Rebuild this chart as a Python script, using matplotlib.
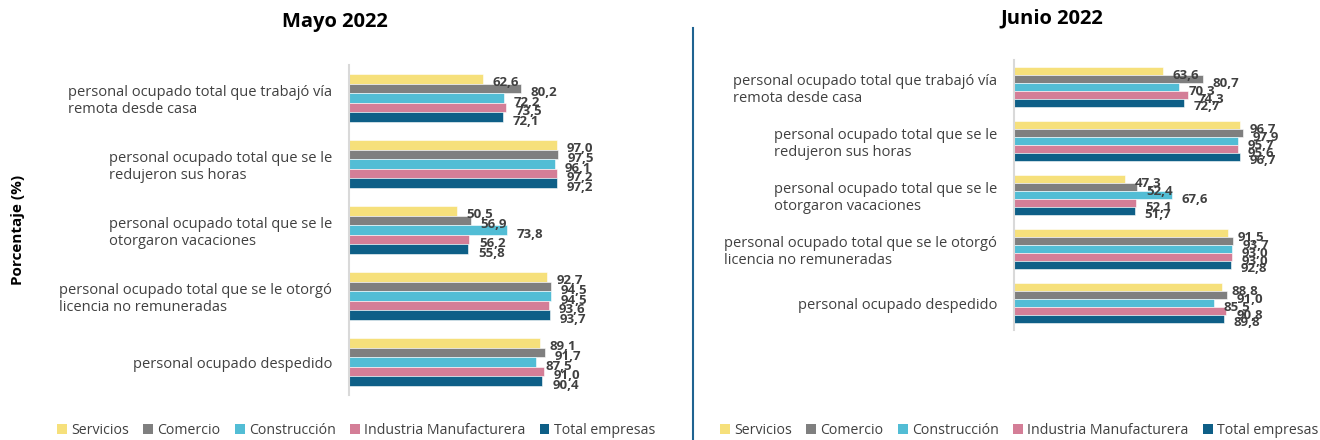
import numpy as np
import matplotlib.pyplot as plt
from matplotlib.patches import Patch
from matplotlib.lines import Line2D

plt.rcParams["font.family"] = ["Open Sans", "DejaVu Sans"]

categories = [
    "personal ocupado total que trabajó vía\nremota desde casa",
    "personal ocupado total que se le\nredujeron sus horas",
    "personal ocupado total que se le\notorgaron vacaciones",
    "personal ocupado total que se le otorgó\nlicencia no remuneradas",
    "personal ocupado despedido",
]
series = ["Servicios", "Comercio", "Construcción", "Industria Manufacturera", "Total empresas"]
colors = ["#F6E07B", "#7F7F7F", "#52BDD5", "#D47E97", "#0E5F87"]

# values per category, in series order
mayo = [
    [62.6, 80.2, 72.2, 73.5, 72.1],
    [97.0, 97.5, 96.1, 97.2, 97.2],
    [50.5, 56.9, 73.8, 56.2, 55.8],
    [92.7, 94.5, 94.5, 93.6, 93.7],
    [89.1, 91.7, 87.5, 91.0, 90.4],
]
junio = [
    [63.6, 80.7, 70.3, 74.3, 72.7],
    [96.7, 97.9, 95.7, 95.6, 96.7],
    [47.3, 52.4, 67.6, 52.1, 51.7],
    [91.5, 93.7, 93.0, 93.0, 92.8],
    [88.8, 91.0, 85.5, 90.8, 89.8],
]

fig = plt.figure(figsize=(13.2, 4.4), dpi=100)
W, H = 1320, 440


def draw(rect, data, title, title_xy, legend_x):
    ax = fig.add_axes(rect)
    data = np.array(data)
    n = len(series)
    bh = 0.146
    y = np.arange(len(categories))
    for j in range(n):
        pos = y - (n - 1) / 2 * bh + j * bh
        bars = ax.barh(pos, data[:, j], height=bh, color=colors[j],
                       edgecolor="white", linewidth=0.4)
        for b, v in zip(bars, data[:, j]):
            ax.annotate(f"{v:.1f}".replace(".", ","),
                        (v, b.get_y() + b.get_height() / 2),
                        xytext=(7, -3), textcoords="offset points",
                        ha="left", va="center", fontsize=9.5, fontweight="bold",
                        color="#404040", annotation_clip=False)
    ax.set_xlim(0, 100)
    ax.set_ylim(len(categories) - 0.5, -0.5)
    ax.set_yticks(y)
    ax.set_yticklabels(categories, fontsize=10.5, color="#404040",
                       multialignment="left")
    ax.tick_params(axis="y", length=0, pad=12)
    ax.set_xticks([])
    for s in ["top", "right", "bottom"]:
        ax.spines[s].set_visible(False)
    ax.spines["left"].set_color("#D9D9D9")
    ax.spines["left"].set_linewidth(1.5)
    fig.text(title_xy[0] / W, 1 - title_xy[1] / H, title, ha="center", va="center",
             fontsize=14.5, fontweight="bold", color="black")
    handles = [Patch(facecolor=c, edgecolor="none") for c in colors]
    fig.legend(handles, series, loc="center left",
               bbox_to_anchor=(legend_x / W, 1 - 430 / H), ncol=5, frameon=False,
               fontsize=10.2, handlelength=0.7, handleheight=0.7,
               handletextpad=0.3, columnspacing=1.0, labelcolor="#404040",
               borderpad=0, borderaxespad=0)
    return ax


draw([349 / W, 1 - 395 / H, 214 / W, 330 / H], mayo, "Mayo 2022", (335, 22), 57)
draw([1014 / W, 1 - 330 / H, 234 / W, 270 / H], junio, "Junio 2022", (1052, 18), 720)

fig.text(18 / W, 1 - 230 / H, "Porcentaje (%)", rotation=90, ha="center", va="center",
         fontsize=11, fontweight="bold", color="black")
fig.add_artist(Line2D([693 / W, 693 / W], [0, 1 - 28 / H], color="#1F6391", linewidth=1.5))

fig.savefig("out.png", dpi=100)
